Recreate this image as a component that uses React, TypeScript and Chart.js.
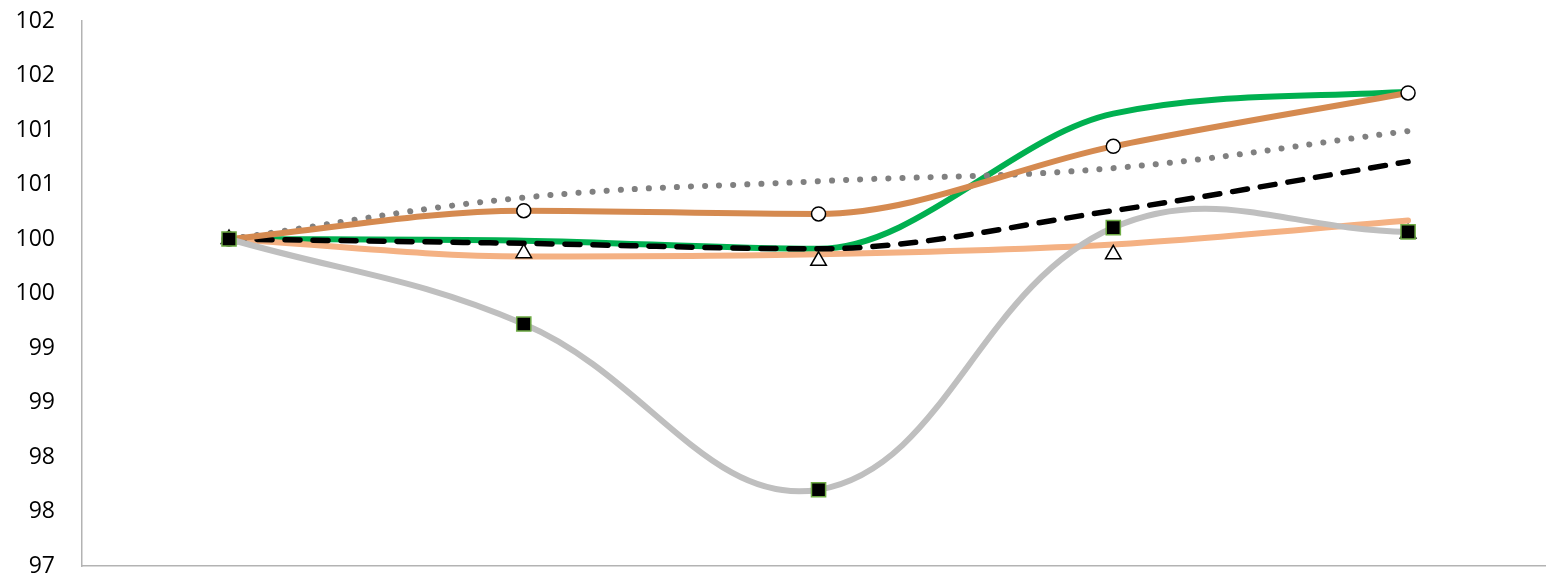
import React, { useEffect, useRef } from "react";
import { Chart, registerables } from "chart.js";

Chart.register(...registerables);

const categories = [0, 1, 2, 3, 4];
const greenSeries = [100, 99.985, 99.91, 101.15, 101.35];
const brownSeries = [100, 100.26, 100.23, 100.85, 101.34];
const dottedSeries = [100, 100.38, 100.53, 100.65, 100.99];
const dashedSeries = [100, 99.96, 99.91, 100.26, 100.71];
const lightOrangeSeries = [100, 99.84, 99.86, 99.95, 100.17];
const triangleSeries = [100, 99.87, 99.8, 99.86, 100.05];
const graySeries = [100, 99.22, 97.7, 100.105, 100.065];

const yMin = 97;
const yMax = 102;
const yStep = 0.5;

const toPoints = (vals: number[]) => categories.map((c, i) => ({ x: c, y: vals[i] }));

export default function App() {
  const ref = useRef<HTMLCanvasElement | null>(null);
  useEffect(() => {
    document.body.style.margin = "0";
    if (!ref.current) return;
    const chart = new Chart(ref.current, {
      type: "line",
      data: {
        datasets: [
          {
            label: "gray",
            data: toPoints(graySeries),
            borderColor: "#BFBFBF",
            borderWidth: 6,
            tension: 0.4,
            borderCapStyle: "round",
            pointStyle: "rect",
            pointRadius: 10,
            pointBackgroundColor: "#000000",
            pointBorderColor: "#70AD47",
            pointBorderWidth: 1.5,
          },
          {
            label: "triangles",
            data: toPoints(triangleSeries),
            showLine: false,
            pointStyle: "triangle",
            pointRadius: 9,
            pointBackgroundColor: "#FFFFFF",
            pointBorderColor: "#000000",
            pointBorderWidth: 1.5,
          },
          {
            label: "brown",
            data: toPoints(brownSeries),
            borderColor: "#D58A50",
            borderWidth: 6,
            cubicInterpolationMode: "monotone",
            borderCapStyle: "round",
            pointStyle: "circle",
            pointRadius: 7,
            pointBackgroundColor: "#FFFFFF",
            pointBorderColor: "#000000",
            pointBorderWidth: 1.5,
          },
          {
            label: "dashed",
            data: toPoints(dashedSeries),
            borderColor: "#000000",
            borderWidth: 5.5,
            cubicInterpolationMode: "monotone",
            borderDash: [15, 13],
            borderCapStyle: "round",
            pointRadius: 0,
          },
          {
            label: "dotted",
            data: toPoints(dottedSeries),
            borderColor: "#808080",
            borderWidth: 6,
            tension: 0.4,
            borderDash: [0.1, 14],
            borderCapStyle: "round",
            pointRadius: 0,
          },
          {
            label: "lightOrange",
            data: toPoints(lightOrangeSeries),
            borderColor: "#F4B183",
            borderWidth: 6,
            cubicInterpolationMode: "monotone",
            borderCapStyle: "round",
            pointRadius: 0,
          },
          {
            label: "green",
            data: toPoints(greenSeries),
            borderColor: "#00B050",
            borderWidth: 6,
            cubicInterpolationMode: "monotone",
            borderCapStyle: "round",
            pointRadius: 0,
          },
        ],
      },
      options: {
        animation: false,
        responsive: false,
        maintainAspectRatio: false,
        layout: { autoPadding: false, padding: { top: 21, right: 0, bottom: 0, left: 0 } },
        plugins: { legend: { display: false }, tooltip: { enabled: false } },
        scales: {
          x: {
            type: "linear",
            min: -0.4988,
            max: 4.468,
            grid: { display: false, drawTicks: false },
            border: { display: true, color: "#B3B3B3", width: 1.5 },
            ticks: { display: false },
            afterFit: (s: any) => {
              s.height = 11;
              s.paddingLeft = 0;
              s.paddingRight = 0;
            },
          },
          y: {
            min: yMin,
            max: yMax,
            grid: { display: false, drawTicks: false },
            border: { display: true, color: "#B3B3B3", width: 1.5 },
            ticks: {
              stepSize: yStep,
              padding: 27,
              color: "#000000",
              font: { family: "'Open Sans', 'Liberation Sans', sans-serif", size: 23 },
              callback: (v: any) => String(Math.round(Number(v))),
            },
            afterFit: (s: any) => {
              s.width = 82;
              s.paddingTop = 0;
              s.paddingBottom = 0;
            },
          },
        },
      },
    });
    return () => chart.destroy();
  }, []);
  return (
    <div style={{ position: "absolute", left: 0, top: 0, width: 1546, height: 577 }}>
      <canvas ref={ref} width={1546} height={577} style={{ width: 1546, height: 577, display: "block" }} />
    </div>
  );
}
